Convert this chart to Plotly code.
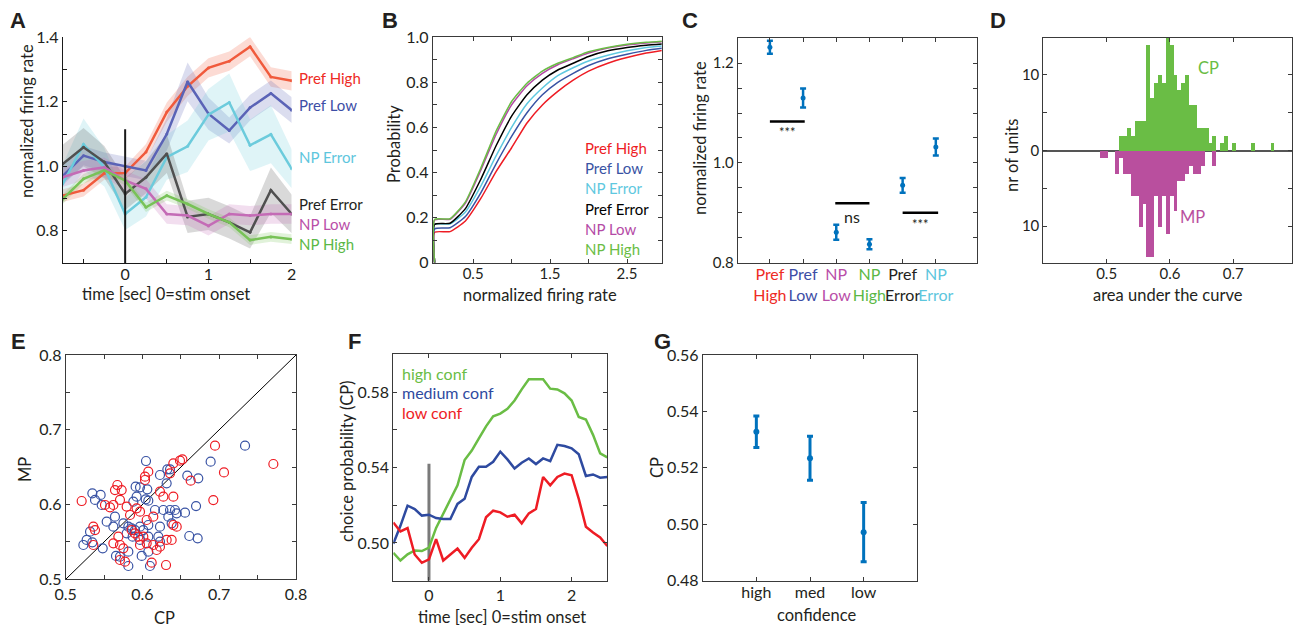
import plotly.graph_objects as go

W, H = 1293, 629
FONT = "Lato, 'Liberation Sans', sans-serif"
BOLD = "'Liberation Sans', Arial, sans-serif"
TXT = "#231f20"
AXC = "#3a3a3a"
TITLE_SIZE = 16.5

# ---------------- Panel A : firing rate time courses ----------------
a_time = [-0.75, -0.5, -0.25, 0, 0.25, 0.5, 0.75, 1.0, 1.25, 1.5, 1.75, 2.0]
a_names = ["Pref High", "Pref Low", "NP Error", "Pref Error", "NP Low", "NP High"]
a_pref_high = [0.909, 0.926, 0.978, 0.979, 1.044, 1.168, 1.248, 1.305, 1.326, 1.371, 1.277, 1.265]
a_pref_low = [0.97, 1.033, 1.013, 0.999, 0.987, 1.10, 1.262, 1.163, 1.111, 1.182, 1.226, 1.174]
a_np_error = [0.945, 1.068, 0.997, 0.852, 0.904, 1.028, 1.062, 1.16, 1.198, 1.065, 1.099, 0.992]
a_pref_error = [1.007, 1.059, 1.013, 0.914, 0.966, 1.039, 0.843, 0.852, 0.826, 0.795, 0.926, 0.852]
a_np_low = [0.966, 0.987, 0.997, 0.956, 0.93, 0.852, 0.847, 0.815, 0.852, 0.847, 0.852, 0.852]
a_np_high = [0.898, 0.961, 0.987, 0.956, 0.873, 0.909, 0.883, 0.852, 0.826, 0.771, 0.781, 0.774]
a_sem_pref_high = [0.02, 0.02, 0.02, 0.02, 0.025, 0.03, 0.03, 0.03, 0.03, 0.03, 0.03, 0.03]
a_sem_pref_low = [0.03, 0.03, 0.03, 0.03, 0.03, 0.05, 0.06, 0.05, 0.04, 0.04, 0.04, 0.04]
a_sem_np_error = [0.06, 0.08, 0.06, 0.05, 0.06, 0.07, 0.08, 0.08, 0.09, 0.08, 0.09, 0.06]
a_sem_pref_error = [0.06, 0.06, 0.05, 0.05, 0.05, 0.06, 0.05, 0.05, 0.05, 0.05, 0.07, 0.06]
a_sem_np_low = [0.03, 0.03, 0.03, 0.03, 0.03, 0.03, 0.03, 0.03, 0.03, 0.03, 0.03, 0.03]
a_sem_np_high = [0.015, 0.015, 0.015, 0.015, 0.015, 0.015, 0.015, 0.015, 0.015, 0.015, 0.015, 0.015]
a_stim_time = 0
a_stim_top = 1.115
a_label_y_px = [78, 105, 157, 204, 224, 244]

a_line_colors = ["#f05a3c", "#5a63b6", "#6ccbdc", "#505050", "#c46bb6", "#78c257"]
label_colors = ["#ee2b24", "#3d4ea6", "#5dc6dd", "#231f20", "#b94ea8", "#5ab846"]

# ---------------- Panel B : cumulative distributions ----------------
b_x = [0, 0.2, 0.4, 0.6, 0.8, 1.0, 1.2, 1.4, 1.6, 1.8, 2.0, 2.25, 2.5, 2.75, 3.0]
b_pref_high = [0.135, 0.138, 0.185, 0.285, 0.405, 0.51, 0.62, 0.70, 0.76, 0.81, 0.85, 0.885, 0.91, 0.93, 0.944]
b_pref_low = [0.15, 0.155, 0.205, 0.31, 0.44, 0.56, 0.665, 0.745, 0.80, 0.84, 0.875, 0.905, 0.925, 0.942, 0.953]
b_np_error = [0.17, 0.172, 0.225, 0.34, 0.475, 0.60, 0.705, 0.775, 0.83, 0.865, 0.895, 0.92, 0.94, 0.955, 0.963]
b_pref_error = [0.17, 0.175, 0.24, 0.37, 0.52, 0.65, 0.745, 0.81, 0.855, 0.885, 0.915, 0.94, 0.955, 0.965, 0.972]
b_np_low = [0.19, 0.193, 0.265, 0.41, 0.57, 0.70, 0.785, 0.84, 0.878, 0.905, 0.93, 0.952, 0.966, 0.975, 0.982]
b_np_high = [0.192, 0.195, 0.27, 0.42, 0.585, 0.715, 0.796, 0.85, 0.885, 0.91, 0.936, 0.955, 0.969, 0.978, 0.984]
b_colors = ["#ee1c24", "#3953a4", "#5ec8e0", "#000000", "#b44aa6", "#6abd45"]
b_legend_y_px = [148, 168, 188, 209, 229, 249]

# ---------------- Panel C : mean firing rate per condition ----------------
c_labels = [("Pref", "High"), ("Pref", "Low"), ("NP", "Low"), ("NP", "High"), ("Pref", "Error"), ("NP", "Error")]
c_label_colors = ["#ee2b24", "#3d4ea6", "#b94ea8", "#5ab846", "#231f20", "#5dc6dd"]
c_means = [1.232, 1.13, 0.861, 0.837, 0.955, 1.032]
c_errs = [0.013, 0.019, 0.015, 0.010, 0.015, 0.017]
c_sig_x0 = [1.0, 2.97, 5.0]
c_sig_x1 = [2.05, 4.0, 6.07]
c_sig_y = [1.083, 0.919, 0.90]
c_sig_text = ["***", "ns", "***"]
c_sig_text_y = [1.062, 0.892, 0.878]

# ---------------- Panel D : CP / MP histograms ----------------
d_bin_start = 0.4899
d_bin_width = 0.006125
d_cp_counts = [0, 0, 0, 0, 0, 2, 2, 3, 2, 4, 4, 4, 14, 7, 9, 10, 9, 15, 14, 10, 8, 9, 10, 6, 6,
               3, 3, 3, 1, 2, 0, 1, 2, 0, 1, 0, 0, 0, 0, 1, 0, 0, 0, 0, 1]
d_mp_counts = [1, 1, 0, 0, 3, 1, 3, 3, 6, 6, 10, 7, 14, 14, 6, 10, 6, 11, 6, 8, 4, 4, 3, 2, 3,
               3, 2, 0, 0, 2, 0, 0, 0, 0, 0, 0, 0, 0, 0, 0, 0, 0, 0, 0, 0]

# ---------------- Panel E : CP vs MP scatter ----------------
e_blue_cp = [0.6046, 0.6228, 0.6324, 0.6359, 0.5347, 0.5455, 0.5382, 0.5469, 0.5911, 0.5968,
             0.6063, 0.5924, 0.5881, 0.6042, 0.6076, 0.6315, 0.6163, 0.6272, 0.6337, 0.6424,
             0.6446, 0.5534, 0.5642, 0.5317, 0.5273, 0.5230, 0.5347, 0.5482, 0.5621, 0.5751,
             0.5816, 0.5859, 0.5903, 0.5968, 0.6011, 0.6076, 0.6228, 0.5794, 0.5872, 0.5968,
             0.6076, 0.6207, 0.6228, 0.5655, 0.5707, 0.5816, 0.5816, 0.5990, 0.6076, 0.6098,
             0.6380, 0.6359, 0.7336, 0.6888, 0.6584, 0.6727, 0.6698, 0.6554, 0.6610, 0.6719]
e_blue_mp = [0.6582, 0.6395, 0.6471, 0.6471, 0.6150, 0.6128, 0.6061, 0.5994, 0.6239, 0.6230,
             0.6203, 0.6105, 0.6038, 0.6070, 0.6052, 0.6284, 0.5927, 0.5927, 0.5838, 0.5927,
             0.5883, 0.5771, 0.5838, 0.5637, 0.5526, 0.5459, 0.5494, 0.5414, 0.5704, 0.5749,
             0.5704, 0.5682, 0.5659, 0.5704, 0.5659, 0.5726, 0.5704, 0.5615, 0.5570, 0.5526,
             0.5570, 0.5570, 0.5503, 0.5312, 0.5303, 0.5370, 0.5178, 0.5312, 0.5370, 0.5178,
             0.5749, 0.5927, 0.6787, 0.6573, 0.6386, 0.6350, 0.5980, 0.5891, 0.5579, 0.5548]
e_red_cp = [0.5208, 0.5673, 0.5642, 0.5729, 0.5707, 0.5621, 0.5512, 0.5577, 0.5794, 0.5924,
            0.6033, 0.6076, 0.6033, 0.6228, 0.6272, 0.6402, 0.6402, 0.6489, 0.6359, 0.6141,
            0.6055, 0.5968, 0.5838, 0.6011, 0.5946, 0.6055, 0.6141, 0.6228, 0.6315, 0.6380,
            0.5360, 0.5382, 0.5360, 0.5621, 0.5686, 0.5707, 0.5751, 0.5707, 0.5773, 0.5968,
            0.6185, 0.6120, 0.6307, 0.5859, 0.5903, 0.6446, 0.6402, 0.6945, 0.7705, 0.7062,
            0.6520, 0.6628, 0.6923]
e_red_mp = [0.6047, 0.6261, 0.6194, 0.6194, 0.6061, 0.5994, 0.5994, 0.5963, 0.5972, 0.5949,
            0.6373, 0.6440, 0.6328, 0.6172, 0.6105, 0.6105, 0.6551, 0.6587, 0.6417, 0.5838,
            0.5793, 0.5905, 0.5860, 0.5570, 0.5570, 0.5481, 0.5459, 0.5437, 0.5526, 0.5526,
            0.5704, 0.5659, 0.5459, 0.5481, 0.5570, 0.5459, 0.5414, 0.5258, 0.5236, 0.5459,
            0.5392, 0.5222, 0.5191, 0.5659, 0.5615, 0.5704, 0.5726, 0.6787, 0.6542, 0.6430,
            0.6605, 0.6319, 0.6060]
e_diag = [0.5, 0.8]

# ---------------- Panel F : CP time course per confidence ----------------
f_time = [-0.5, -0.4, -0.3, -0.2, -0.1, 0.0, 0.1, 0.2, 0.3, 0.4, 0.5, 0.6, 0.7, 0.8, 0.9, 1.0,
          1.1, 1.2, 1.3, 1.4, 1.5, 1.6, 1.7, 1.8, 1.9, 2.0, 2.1, 2.2, 2.3, 2.4, 2.5]
f_high = [0.4948, 0.4907, 0.494, 0.496, 0.4957, 0.4975, 0.508, 0.5154, 0.5225, 0.5305, 0.544,
          0.549, 0.5555, 0.5618, 0.5671, 0.5686, 0.5711, 0.5755, 0.5814, 0.5868, 0.5868, 0.5868,
          0.5818, 0.5814, 0.5793, 0.5755, 0.5668, 0.5654, 0.5573, 0.5475, 0.5454]
f_medium = [0.4996, 0.5091, 0.5198, 0.518, 0.5145, 0.515, 0.5132, 0.5127, 0.5127, 0.5207, 0.5234,
            0.535, 0.5404, 0.5404, 0.543, 0.5484, 0.5443, 0.5395, 0.5425, 0.5448, 0.5418, 0.5448,
            0.5434, 0.552, 0.5514, 0.5502, 0.547, 0.5355, 0.5363, 0.5346, 0.535]
f_low = [0.5109, 0.5061, 0.5079, 0.4939, 0.4895, 0.4913, 0.502, 0.4907, 0.4939, 0.497, 0.4921,
         0.4975, 0.502, 0.5136, 0.5171, 0.5162, 0.5139, 0.515, 0.5104, 0.5157, 0.518, 0.535,
         0.5305, 0.535, 0.5368, 0.5359, 0.5234, 0.5086, 0.5055, 0.5029, 0.4984]
f_names = ["high conf", "medium conf", "low conf"]
f_colors = ["#6abd45", "#2e4aa0", "#ee1c24"]
f_stim_top = 0.542

# ---------------- Panel G : CP per confidence level ----------------
g_labels = ["high", "med", "low"]
g_means = [0.5328, 0.5234, 0.4972]
g_errs = [0.0056, 0.0078, 0.0105]

MBLUE = "#0072bd"
CP_GREEN = "#6abd45"
MP_MAG = "#b94f9e"


def dom_x(l, r):
    return [l / W, r / W]


def dom_y(t, b):
    return [1 - b / H, 1 - t / H]


def rgba(hexc, a):
    h = hexc.lstrip('#')
    return "rgba(%d,%d,%d,%s)" % (int(h[0:2], 16), int(h[2:4], 16), int(h[4:6], 16), a)


def make_axis(domain, rng, anchor, box=True, tickvals=None, ticktext=None,
              minor_vals=None, linecolor=AXC, size=15, **kw):
    d = dict(domain=domain, range=rng, anchor=anchor, showgrid=False, zeroline=False,
             showline=True, linecolor=linecolor, linewidth=1, ticks='inside', ticklen=4,
             tickcolor=linecolor, tickwidth=1, mirror='ticks' if box else False,
             automargin=False, tickangle=0,
             tickfont=dict(family=FONT, size=size, color=TXT))
    if tickvals is not None:
        d['tickmode'] = 'array'
        d['tickvals'] = tickvals
        if ticktext is not None:
            d['ticktext'] = ticktext
    if minor_vals is not None:
        d['minor'] = dict(tickmode='array', tickvals=minor_vals, ticks='inside', ticklen=4,
                          tickcolor=linecolor, tickwidth=1, showgrid=False)
    d.update(kw)
    return d


fig = go.Figure()
annotations = []


def ann(text, px, py, size=15, color=TXT, xanchor='center', yanchor='middle', angle=0, family=FONT):
    annotations.append(dict(text=text, x=px / W, y=1 - py / H, xref='paper', yref='paper',
                            showarrow=False, xanchor=xanchor, yanchor=yanchor, textangle=angle,
                            font=dict(family=family, size=size, color=color)))


# ---- Panel A traces
a_series = [a_pref_high, a_pref_low, a_np_error, a_pref_error, a_np_low, a_np_high]
a_sems = [a_sem_pref_high, a_sem_pref_low, a_sem_np_error, a_sem_pref_error, a_sem_np_low, a_sem_np_high]
for vals, sems, col in zip(a_series, a_sems, a_line_colors):
    up = [v + s for v, s in zip(vals, sems)]
    lo = [v - s for v, s in zip(vals, sems)]
    fig.add_trace(go.Scatter(x=a_time + a_time[::-1], y=up + lo[::-1], fill='toself',
                             fillcolor=rgba(col, 0.22), line=dict(width=0), mode='lines',
                             hoverinfo='skip', showlegend=False, xaxis='x', yaxis='y'))
for vals, col, name in zip(a_series, a_line_colors, a_names):
    fig.add_trace(go.Scatter(x=a_time, y=vals, mode='lines+markers', name=name,
                             line=dict(color=col, width=2.5), marker=dict(size=3, color=col),
                             showlegend=False, xaxis='x', yaxis='y'))
fig.add_trace(go.Scatter(x=[a_stim_time, a_stim_time], y=[0.7, a_stim_top], mode='lines',
                         line=dict(color='#1a1a1a', width=2), showlegend=False, xaxis='x', yaxis='y'))
for name, col, py in zip(a_names, label_colors, a_label_y_px):
    ann(name, 297, py, size=15, color=col, xanchor='left')

# ---- Panel B traces
b_series = [b_pref_high, b_pref_low, b_np_error, b_pref_error, b_np_low, b_np_high]
for vals, col, name in zip(b_series, b_colors, a_names):
    fig.add_trace(go.Scatter(x=[b_x[0]] + b_x, y=[0] + vals, mode='lines', name=name,
                             line=dict(color=col, width=1.5, shape='spline', smoothing=0.5),
                             showlegend=False, xaxis='x2', yaxis='y2'))
for name, col, py in zip(a_names, b_colors, b_legend_y_px):
    ann(name, 583, py, size=15, color=col, xanchor='left')

# ---- Panel C traces
c_x = [1, 2, 3, 4, 5, 6]
fig.add_trace(go.Scatter(x=c_x, y=c_means, mode='markers',
                         marker=dict(size=5, color=MBLUE),
                         error_y=dict(type='data', array=c_errs, color=MBLUE, thickness=2.5, width=3),
                         showlegend=False, xaxis='x3', yaxis='y3'))
for x0, x1, y, t, ty in zip(c_sig_x0, c_sig_x1, c_sig_y, c_sig_text, c_sig_text_y):
    fig.add_trace(go.Scatter(x=[x0, x1], y=[y, y], mode='lines', line=dict(color='black', width=2.5),
                             showlegend=False, xaxis='x3', yaxis='y3'))
    annotations.append(dict(text=t, x=(x0 + x1) / 2, y=ty, xref='x3', yref='y3', showarrow=False,
                            font=dict(family=FONT, size=16 if t == 'ns' else 13, color=TXT)))
c_ticktext = ['<span style="color:%s">%s</span><br><span style="color:%s">%s</span>' % (col, a, col, b)
              for (a, b), col in zip(c_labels, c_label_colors)]

# ---- Panel D traces
d_centers = [d_bin_start + (i + 0.5) * d_bin_width for i in range(len(d_cp_counts))]
fig.add_trace(go.Bar(x=d_centers, y=d_cp_counts, width=d_bin_width, marker=dict(color=CP_GREEN, line=dict(width=0)),
                     showlegend=False, xaxis='x4', yaxis='y4'))
fig.add_trace(go.Bar(x=d_centers, y=[-c for c in d_mp_counts], width=d_bin_width,
                     marker=dict(color=MP_MAG, line=dict(width=0)), showlegend=False, xaxis='x4', yaxis='y4'))
annotations.append(dict(text='CP', x=0.661, y=10.9, xref='x4', yref='y4', showarrow=False,
                        font=dict(family=FONT, size=16.5, color=CP_GREEN)))
annotations.append(dict(text='MP', x=0.636, y=-8.8, xref='x4', yref='y4', showarrow=False,
                        font=dict(family=FONT, size=16.5, color=MP_MAG)))

# ---- Panel E traces
fig.add_trace(go.Scatter(x=e_diag, y=e_diag, mode='lines', line=dict(color='black', width=1),
                         showlegend=False, xaxis='x5', yaxis='y5'))
fig.add_trace(go.Scatter(x=e_blue_cp, y=e_blue_mp, mode='markers',
                         marker=dict(symbol='circle-open', size=9, color='#3953a4', line=dict(width=1.2)),
                         showlegend=False, xaxis='x5', yaxis='y5'))
fig.add_trace(go.Scatter(x=e_red_cp, y=e_red_mp, mode='markers',
                         marker=dict(symbol='circle-open', size=9, color='#ee1c24', line=dict(width=1.2)),
                         showlegend=False, xaxis='x5', yaxis='y5'))

# ---- Panel F traces
fig.add_trace(go.Scatter(x=[0, 0], y=[0.48, f_stim_top], mode='lines', line=dict(color='#7a7a7a', width=3),
                         showlegend=False, xaxis='x6', yaxis='y6'))
for vals, col, name in zip([f_high, f_medium, f_low], f_colors, f_names):
    fig.add_trace(go.Scatter(x=f_time, y=vals, mode='lines', name=name, line=dict(color=col, width=2.5),
                             showlegend=False, xaxis='x6', yaxis='y6'))
for name, col, py in zip(f_names, f_colors, [373, 392, 412]):
    ann(name, 400, py, size=16, color=col, xanchor='left')

# ---- Panel G traces
fig.add_trace(go.Scatter(x=[1, 2, 3], y=g_means, mode='markers', marker=dict(size=6, color=MBLUE),
                         error_y=dict(type='data', array=g_errs, color=MBLUE, thickness=3, width=3),
                         showlegend=False, xaxis='x7', yaxis='y7'))

# ---- Axes
XS = dict(ticklabelstandoff=-3)
layout = dict(
    template='none',
    width=W, height=H, margin=dict(l=0, r=0, t=0, b=0, pad=0), autosize=False,
    paper_bgcolor='white', plot_bgcolor='white', barmode='overlay', bargap=0,
    font=dict(family=FONT, color=TXT), showlegend=False,
    xaxis=make_axis(dom_x(62.7, 291.7), [-0.75, 2.0], 'y', box=False, tickvals=[0, 1, 2],
                    ticktext=['0', '1', '2'], minor_vals=[-0.5, 0.5, 1.5], linecolor='#1a1a1a', size=16, **XS),
    yaxis=make_axis(dom_y(37.3, 263), [0.7, 1.4], 'x', box=False, tickvals=[0.8, 1.0, 1.2, 1.4],
                    ticktext=['0.8', '1.0', '1.2', '1.4'], minor_vals=[0.9, 1.1, 1.3], linecolor='#1a1a1a', size=16),
    xaxis2=make_axis(dom_x(432.7, 661.7), [-0.025, 2.95], 'y2', tickvals=[0.5, 1.5, 2.5],
                     ticktext=['0.5', '1.5', '2.5'], minor_vals=[1.0, 2.0], **XS),
    yaxis2=make_axis(dom_y(37.3, 262.7), [0, 1.0], 'x2', tickvals=[0, 0.2, 0.4, 0.6, 0.8, 1.0],
                     ticktext=['0', '0.2', '0.4', '0.6', '0.8', '1.0'], minor_vals=[0.1, 0.3, 0.5, 0.7, 0.9], size=16),
    xaxis3=make_axis(dom_x(737.7, 977.3), [0.03, 7.25], 'y3', tickvals=c_x, ticktext=c_ticktext, size=16, **XS),
    yaxis3=make_axis(dom_y(37.7, 262.7), [0.8, 1.251], 'x3', tickvals=[0.8, 1.0, 1.2],
                     ticktext=['0.8', '1.0', '1.2'], minor_vals=[0.85, 0.9, 0.95, 1.05, 1.1, 1.15]),
    xaxis4=make_axis(dom_x(1043.3, 1291.5), [0.4, 0.792], 'y4', tickvals=[0.5, 0.6, 0.7],
                     ticktext=['0.5', '0.6', '0.7'], layer='above traces', **XS),
    yaxis4=make_axis(dom_y(37.7, 263.3), [-14.9, 14.9], 'x4', tickvals=[-10, 0, 10],
                     ticktext=['10', '0', '10'], minor_vals=[-5, 5], zeroline=True,
                     zerolinecolor='#555555', zerolinewidth=1.5, layer='above traces'),
    xaxis5=make_axis(dom_x(65.7, 296), [0.5, 0.8], 'y5', tickvals=[0.5, 0.6, 0.7, 0.8],
                     ticktext=['0.5', '0.6', '0.7', '0.8'], minor_vals=[0.55, 0.65, 0.75], size=16),
    yaxis5=make_axis(dom_y(355, 579.3), [0.5, 0.8], 'x5', tickvals=[0.5, 0.6, 0.7, 0.8],
                     ticktext=['0.5', '0.6', '0.7', '0.8'], minor_vals=[0.55, 0.65, 0.75], size=16),
    xaxis6=make_axis(dom_x(393.3, 607.3), [-0.5, 2.5], 'y6', tickvals=[0, 1, 2],
                     ticktext=['0', '1', '2'], size=16),
    yaxis6=make_axis(dom_y(354.3, 580.7), [0.48, 0.60], 'x6', tickvals=[0.50, 0.54, 0.58],
                     ticktext=['0.50', '0.54', '0.58'], minor_vals=[0.52, 0.56], size=16),
    xaxis7=make_axis(dom_x(702.7, 917.3), [0, 4], 'y7', tickvals=[1, 2, 3], ticktext=g_labels, size=16, **XS),
    yaxis7=make_axis(dom_y(355, 580.7), [0.48, 0.56], 'x7', tickvals=[0.48, 0.50, 0.52, 0.54, 0.56],
                     ticktext=['0.48', '0.50', '0.52', '0.54', '0.56'], size=16),
)

# Axis titles
ann('normalized firing rate', 27, 121, size=TITLE_SIZE, angle=-90)
ann('time [sec] 0=stim onset', 166, 294, size=TITLE_SIZE)
ann('Probability', 394, 144, size=TITLE_SIZE, angle=-90)
ann('normalized firing rate', 540, 295, size=TITLE_SIZE)
ann('normalized firing rate', 700, 138, size=TITLE_SIZE, angle=-90)
ann('nr of units', 1012, 156, size=TITLE_SIZE, angle=-90)
ann('area under the curve', 1168, 295, size=TITLE_SIZE)
ann('MP', 25, 470, size=TITLE_SIZE, angle=-90)
ann('CP', 164, 618, size=TITLE_SIZE)
ann('choice probability (CP)', 347, 462, size=TITLE_SIZE, angle=-90)
ann('time [sec] 0=stim onset', 502, 617, size=TITLE_SIZE)
ann('CP', 657, 468, size=TITLE_SIZE, angle=-90)
ann('confidence', 816, 615, size=TITLE_SIZE)

# Panel letters
for letter, px, py in [('A', 18, 21), ('B', 390, 21), ('C', 690, 21), ('D', 998, 21),
                       ('E', 18, 341), ('F', 354, 341), ('G', 662, 341)]:
    ann('<b>%s</b>' % letter, px, py, size=22, family=BOLD)

layout['annotations'] = annotations
fig.update_layout(**layout)
fig.write_html("out.html", config={'displayModeBar': False},
               post_script="document.body.style.margin='0';document.body.style.overflow='hidden';")
